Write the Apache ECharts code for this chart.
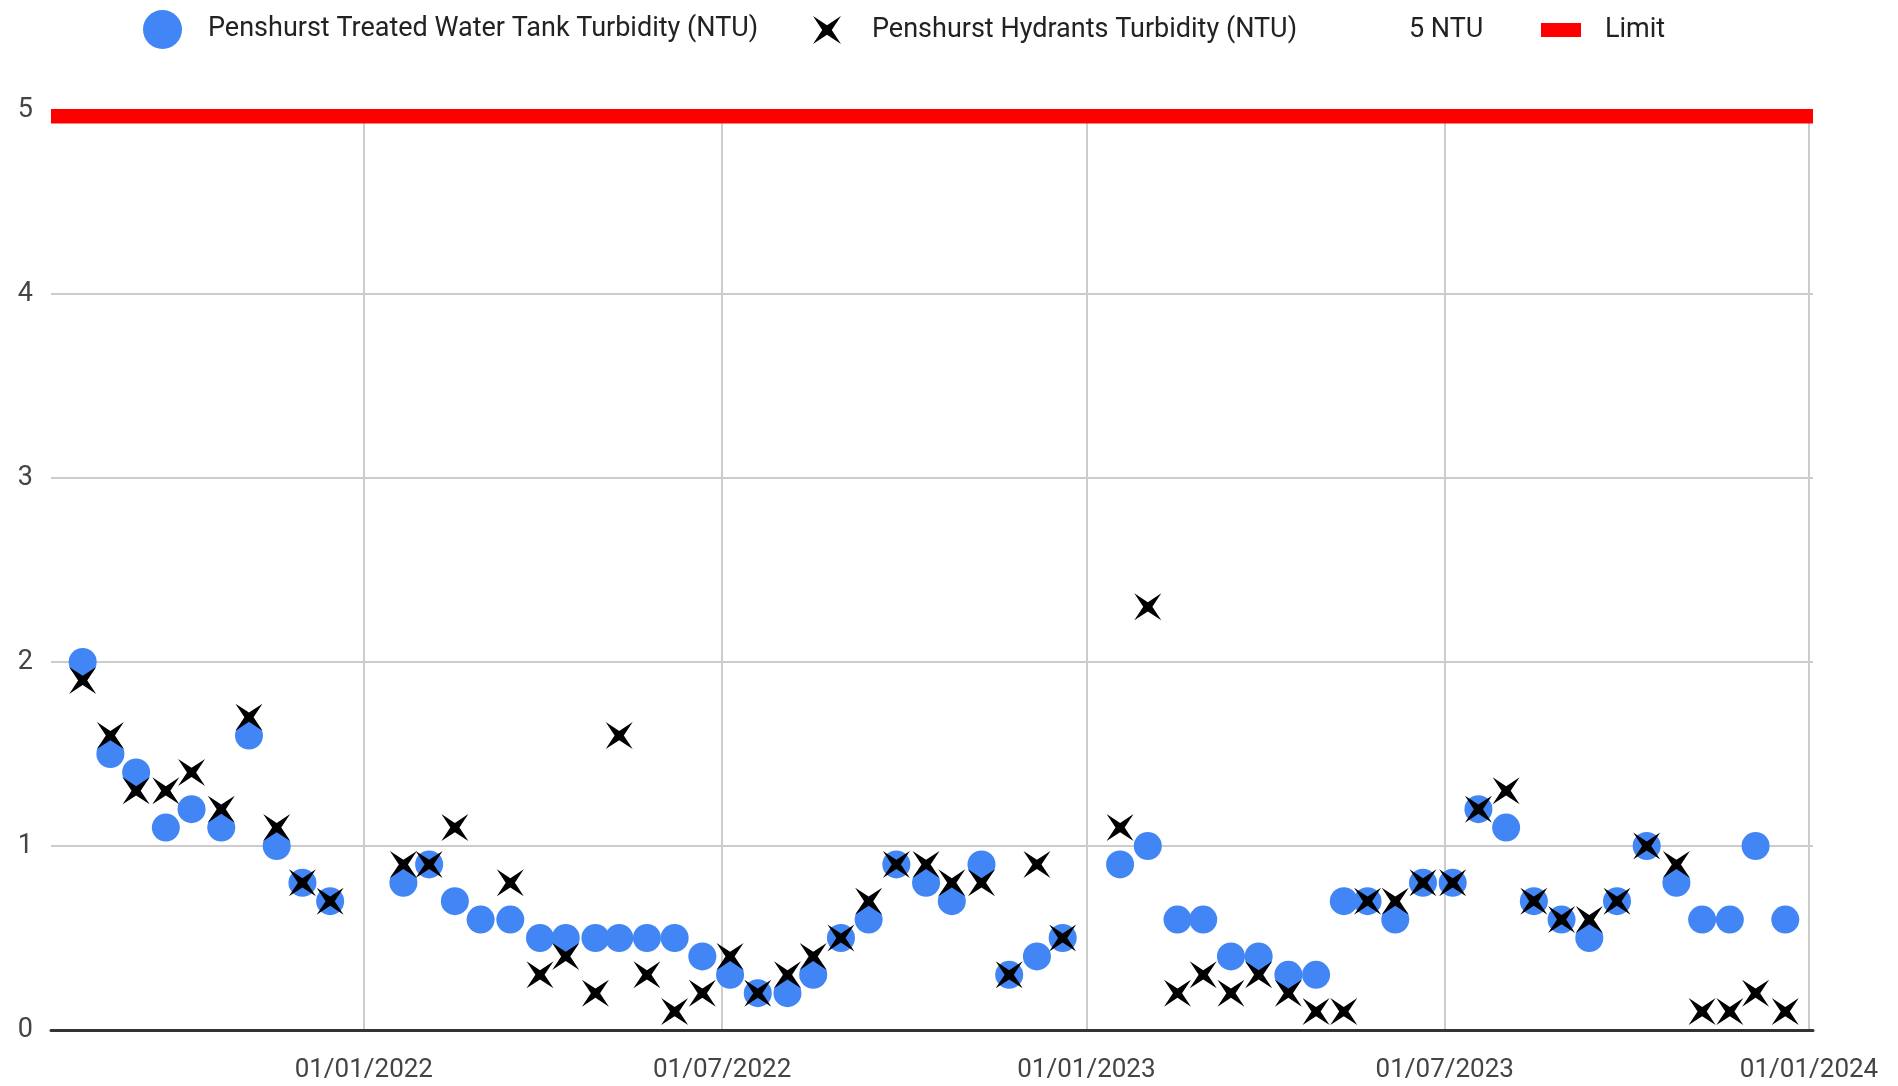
<!DOCTYPE html>
<html>
<head>
<meta charset="utf-8">
<title>Penshurst Turbidity</title>
<script src="https://cdn.jsdelivr.net/npm/echarts@6/dist/echarts.min.js"></script>
<style>
  html, body { margin: 0; padding: 0; background: #fff; }
  #main { width: 1898px; height: 1086px; }
</style>
</head>
<body>
<div id="main"></div>
<script>
// sample dates (roughly fortnightly)
var sampleDates = [
  '2021-08-12', '2021-08-26', '2021-09-08', '2021-09-23', '2021-10-06', '2021-10-21',
  '2021-11-04', '2021-11-18', '2021-12-01', '2021-12-15',
  '2022-01-21', '2022-02-03', '2022-02-16', '2022-03-01', '2022-03-16', '2022-03-31',
  '2022-04-13', '2022-04-28', '2022-05-10', '2022-05-24', '2022-06-07', '2022-06-21',
  '2022-07-05', '2022-07-19', '2022-08-03', '2022-08-16', '2022-08-30', '2022-09-13',
  '2022-09-27', '2022-10-12', '2022-10-25', '2022-11-09', '2022-11-23', '2022-12-07',
  '2022-12-20',
  '2023-01-18', '2023-02-01', '2023-02-16', '2023-03-01', '2023-03-15', '2023-03-29',
  '2023-04-13', '2023-04-27', '2023-05-11', '2023-05-23', '2023-06-06', '2023-06-20',
  '2023-07-05', '2023-07-18', '2023-08-01', '2023-08-15', '2023-08-29', '2023-09-12',
  '2023-09-26', '2023-10-11', '2023-10-26', '2023-11-08', '2023-11-22', '2023-12-05',
  '2023-12-20'
];

var tankTurbidity = [
  2.0, 1.5, 1.4, 1.1, 1.2, 1.1, 1.6, 1.0, 0.8, 0.7,
  0.8, 0.9, 0.7, 0.6, 0.6, 0.5, 0.5, 0.5, 0.5, 0.5, 0.5, 0.4,
  0.3, 0.2, 0.2, 0.3, 0.5, 0.6, 0.9, 0.8, 0.7, 0.9, 0.3, 0.4, 0.5,
  0.9, 1.0, 0.6, 0.6, 0.4, 0.4, 0.3, 0.3, 0.7, 0.7, 0.6, 0.8,
  0.8, 1.2, 1.1, 0.7, 0.6, 0.5, 0.7, 1.0, 0.8, 0.6, 0.6, 1.0, 0.6
];

var hydrantTurbidity = [
  1.9, 1.6, 1.3, 1.3, 1.4, 1.2, 1.7, 1.1, 0.8, 0.7,
  0.9, 0.9, 1.1, null, 0.8, 0.3, 0.4, 0.2, 1.6, 0.3, 0.1, 0.2,
  0.4, 0.2, 0.3, 0.4, 0.5, 0.7, 0.9, 0.9, 0.8, 0.8, 0.3, 0.9, 0.5,
  1.1, 2.3, 0.2, 0.3, 0.2, 0.3, 0.2, 0.1, 0.1, 0.7, 0.7, 0.8,
  0.8, 1.2, 1.3, 0.7, 0.6, 0.6, 0.7, 1.0, 0.9, 0.1, 0.1, 0.2, 0.1
];

var limitValue = 5;
var xStart = '2021-07-27';
var xEnd = '2024-01-03';
var xTickDates = ['2022-01-01', '2022-07-01', '2023-01-01', '2023-07-01', '2024-01-01'];

var fontName = 'Roboto, sans-serif';
var starPath = 'path://M0,0 L50,33 L100,0 L67,50 L100,100 L50,67 L0,100 L33,50 Z';

function toTime(s) { return new Date(s + 'T00:00:00').getTime(); }
function pad(n) { return n < 10 ? '0' + n : '' + n; }
function fmtDate(v) {
  var d = new Date(v);
  return pad(d.getDate()) + '/' + pad(d.getMonth() + 1) + '/' + d.getFullYear();
}

var xTicks = xTickDates.map(toTime);
var tankData = sampleDates.map(function (d, i) { return [toTime(d), tankTurbidity[i]]; });
var hydrantData = [];
sampleDates.forEach(function (d, i) {
  if (hydrantTurbidity[i] !== null) hydrantData.push([toTime(d), hydrantTurbidity[i]]);
});

var legendText = { fontFamily: fontName, fontSize: 27, color: '#222' };

var myChart = echarts.init(document.getElementById('main'));
var option = {
  animation: false,
  backgroundColor: '#fff',
  grid: { left: 51, right: 85, top: 110, bottom: 56, containLabel: false },
  legend: [
    {
      left: 143, top: 10, padding: 0, itemWidth: 39, itemHeight: 39,
      data: [{ name: 'Penshurst Treated Water Tank Turbidity (NTU)', icon: 'circle' }],
      textStyle: Object.assign({ padding: [0, 0, 0, 21] }, legendText)
    },
    {
      left: 813, top: 16, padding: 0, itemWidth: 30, itemHeight: 28,
      data: [{ name: 'Penshurst Hydrants Turbidity (NTU)', icon: starPath }],
      textStyle: Object.assign({ padding: [0, 0, 0, 25] }, legendText)
    },
    {
      left: 1374, top: 16.5, padding: 0, itemWidth: 30, itemHeight: 14,
      data: [{ name: '5 NTU', icon: 'rect', itemStyle: { color: 'rgba(0,0,0,0)' } }],
      textStyle: legendText
    },
    {
      left: 1541, top: 16.5, padding: 0, itemWidth: 40, itemHeight: 14,
      data: [{ name: 'Limit', icon: 'rect' }],
      textStyle: Object.assign({ padding: [0, 0, 0, 19] }, legendText)
    }
  ],
  xAxis: {
    type: 'value',
    min: toTime(xStart),
    max: toTime(xEnd),
    axisLine: { show: true, onZero: false, lineStyle: { color: '#333', width: 3 } },
    axisTick: { show: false, customValues: xTicks },
    axisLabel: {
      customValues: xTicks,
      formatter: fmtDate,
      fontFamily: fontName,
      fontSize: 26,
      color: '#444',
      margin: 27
    },
    splitLine: { show: true, customValues: xTicks, lineStyle: { color: '#ccc', width: 2 } }
  },
  yAxis: {
    type: 'value',
    min: 0,
    max: 5,
    interval: 1,
    axisLine: { show: false },
    axisTick: { show: false },
    axisLabel: { fontFamily: fontName, fontSize: 27, color: '#444', margin: 18, padding: [6, 0, 0, 0] },
    splitLine: { lineStyle: { color: '#ccc', width: 2 } }
  },
  graphic: [
    // hide the upper half of the thick limit line, as the original clips it at the plot top
    { type: 'rect', z: 100, shape: { x: 44, y: 80, width: 1790, height: 29 }, style: { fill: '#fff' } }
  ],
  series: [
    {
      name: 'Penshurst Treated Water Tank Turbidity (NTU)',
      type: 'scatter',
      symbol: 'circle',
      symbolSize: 28,
      itemStyle: { color: '#4285F4', opacity: 1 },
      data: tankData,
      z: 3
    },
    {
      name: 'Penshurst Hydrants Turbidity (NTU)',
      type: 'scatter',
      symbol: starPath,
      symbolSize: 27,
      itemStyle: { color: '#000', opacity: 1 },
      data: hydrantData,
      z: 4
    },
    {
      name: '5 NTU',
      type: 'line',
      showSymbol: false,
      itemStyle: { color: 'rgba(0,0,0,0)' },
      lineStyle: { width: 0 },
      data: []
    },
    {
      name: 'Limit',
      type: 'line',
      showSymbol: false,
      symbol: 'none',
      itemStyle: { color: '#ff0000' },
      lineStyle: { color: '#ff0000', width: 27 },
      data: [[toTime(xStart), limitValue], [toTime(xEnd), limitValue]],
      z: 2
    }
  ]
};
myChart.setOption(option);
</script>
</body>
</html>
